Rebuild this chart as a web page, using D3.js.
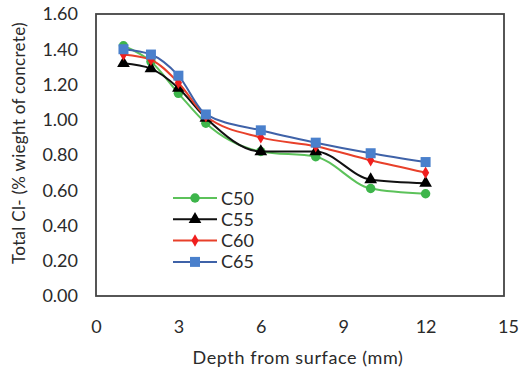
<!DOCTYPE html>
<html>
<head>
<meta charset="utf-8">
<script src="https://cdn.jsdelivr.net/npm/d3@7"></script>
<style>
body{margin:0;background:#fff;}
text{font-family:Lato,"Open Sans",sans-serif;fill:#2a2a2a;}
</style>
</head>
<body>
<div id="canvas"></div>
<script>
// data
var depths = [1,2,3,4,6,8,10,12];
var seriesNames = ['C50','C55','C60','C65'];
var c50 = [1.42,1.33,1.15,0.98,0.82,0.79,0.61,0.58];
var c55 = [1.32,1.29,1.18,1.01,0.82,0.82,0.66,0.64];
var c60 = [1.37,1.34,1.21,1.02,0.90,0.85,0.77,0.70];
var c65 = [1.40,1.37,1.25,1.03,0.94,0.87,0.81,0.76];
var xTicks = [0,3,6,9,12,15];
var yTicks = [0,0.2,0.4,0.6,0.8,1.0,1.2,1.4,1.6];

var W = 527, H = 371;
var m = {t:14,r:19,b:75,l:96};
var w = W - m.l - m.r, h = H - m.t - m.b;

var svg = d3.select('#canvas').append('svg')
    .attr('width',W).attr('height',H);
var plot = svg.append('g')
    .attr('transform','translate('+m.l+','+m.t+')');

var scaleX = d3.scaleLinear().domain([0,15]).range([0,w]);
var scaleY = d3.scaleLinear().domain([0,1.6]).range([h,0]);

// axes: labels only, no tick marks
var axisX = d3.axisBottom(scaleX).tickValues(xTicks).tickSize(0).tickPadding(24);
var axisY = d3.axisLeft(scaleY).tickValues(yTicks).tickSize(0).tickPadding(18)
    .tickFormat(d3.format('.2f'));
plot.append('g').attr('transform','translate(0,'+h+')').call(axisX)
    .call(function(g){g.select('.domain').remove();})
    .selectAll('text').style('font-size','18px').attr('fill','#2a2a2a');
plot.append('g').call(axisY)
    .call(function(g){g.select('.domain').remove();})
    .selectAll('text').style('font-size','18px').attr('fill','#2a2a2a');

plot.append('rect')
    .attr('x',0).attr('y',0).attr('width',w-4).attr('height',h)
    .attr('fill','none').attr('stroke','#444').attr('stroke-width',1.8);

// axis titles
svg.append('text')
    .attr('x',m.l + scaleX(7.5) - 4).attr('y',H-7)
    .attr('text-anchor','middle').style('font-size','18px')
    .style('letter-spacing','0.6px')
    .text('Depth from surface (mm)');
svg.append('text')
    .attr('transform','translate(25,'+(m.t+h/2 - 12)+') rotate(-90)')
    .attr('text-anchor','middle').style('font-size','17px')
    .style('letter-spacing','0.3px')
    .text('Total Cl- (% wieght of concrete)');

var series = [
    {name:seriesNames[0], vals:c50, line:'#5cc25a', fill:'#3db54a', sym:d3.symbolCircle, size:70},
    {name:seriesNames[1], vals:c55, line:'#111', fill:'#000', sym:d3.symbolTriangle, size:70},
    {name:seriesNames[2], vals:c60, line:'#e8402a', fill:'#f01e1e', sym:d3.symbolDiamond, size:45},
    {name:seriesNames[3], vals:c65, line:'#3f62a8', fill:'#4a80cc', sym:d3.symbolSquare, size:100}
];

var line = d3.line()
    .x(function(d,i){return scaleX(depths[i]);})
    .y(function(d){return scaleY(d);})
    .curve(d3.curveMonotoneX);

series.forEach(function(s){
    plot.append('path')
        .attr('d',line(s.vals))
        .attr('fill','none').attr('stroke',s.line).attr('stroke-width',2);
    s.vals.forEach(function(v,i){
        plot.append('path')
            .attr('d',d3.symbol().type(s.sym).size(s.size)())
            .attr('transform','translate('+scaleX(depths[i])+','+scaleY(v)+')')
            .attr('fill',s.fill);
    });
});

// legend
var legend = svg.append('g').attr('transform','translate(173,198)');
series.forEach(function(s,i){
    var g = legend.append('g').attr('transform','translate(0,'+(i*21.3)+')');
    g.append('line').attr('x1',0).attr('x2',44).attr('y1',0).attr('y2',0)
        .attr('stroke',s.line).attr('stroke-width',2);
    g.append('path').attr('d',d3.symbol().type(s.sym).size(s.size)())
        .attr('transform','translate(22,0)').attr('fill',s.fill);
    g.append('text').attr('x',48).attr('y',6.5).style('font-size','18px').text(s.name);
});
</script>
</body>
</html>
